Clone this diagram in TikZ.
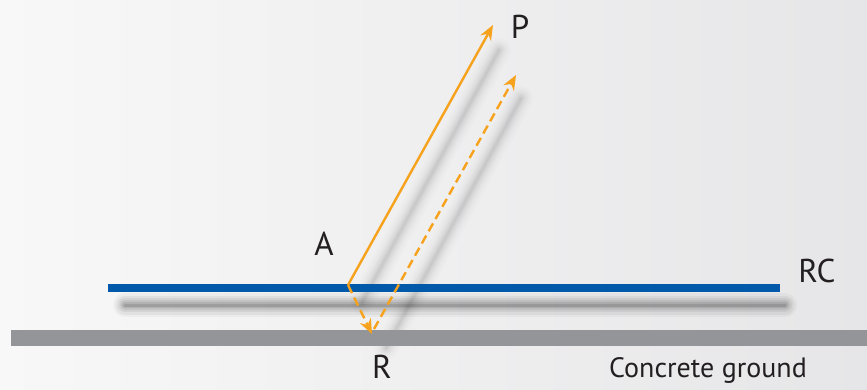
\documentclass[tikz,border=0pt]{standalone}
\usepackage{fontspec}
\setmainfont{PT Sans}
\usetikzlibrary{arrows.meta}
\definecolor{bgl}{HTML}{F8F8F8}
\definecolor{bgr}{HTML}{E6E6E8}
\definecolor{rcblue}{HTML}{0059A9}
\definecolor{ground}{HTML}{939598}
\definecolor{arr}{HTML}{F6A21C}
\definecolor{txt}{HTML}{231F20}
\tikzset{
  lbl/.style={font=\fontsize{33}{33}\selectfont, text=txt, inner sep=0pt, anchor=base},
  smalllbl/.style={font=\fontsize{28}{28}\selectfont, text=txt, inner sep=0pt, anchor=base},
  arrline/.style={draw=arr, line width=2.4pt, -{Stealth[length=15pt,width=12pt,inset=5pt]}},
  arrdash/.style={arrline, dash pattern=on 9pt off 5pt},
}
\newcommand{\softshadow}[3]{%
  \foreach \w/\o in {24/0.025, 19/0.035, 14/0.045, 10/0.055, 6/0.07, 3/0.08}{
    \draw[line width=\w pt, black, opacity=#3*\o, line cap=round] #1 -- #2;
  }%
}
\begin{document}
\begin{tikzpicture}[x=1pt,y=-1pt]
  \useasboundingbox (0,0) rectangle (867,389);
  \shade[left color=bgl, right color=bgr] (0,0) rectangle (867,389);
  % coordinates
  \coordinate (A) at (348,285);
  \coordinate (P) at (493,25);
  \coordinate (R) at (372,334);
  \coordinate (Pd) at (516,75);
  \coordinate (RCl) at (108,288);
  \coordinate (RCr) at (780,288);
  \coordinate (Gl) at (11,338);
  \coordinate (Gr) at (867,338);
  % shadows
  \softshadow{(125,305)}{(785,305)}{1.3}
  \softshadow{(362,302)}{(499,50)}{0.5}
  \softshadow{(386,348)}{(521,98)}{0.5}
  % ground and RC
  \draw[ground, line width=16pt] (Gl) -- (Gr);
  \draw[rcblue, line width=8pt] (RCl) -- (RCr);
  % arrows
  \draw[arrline] (A) -- (P);
  \draw[arrdash] (A) -- (R);
  \draw[arrdash] ([shift={(2,-5)}]R) -- (Pd);
  % labels
  \node[lbl] (lP) at (520,38) {P};
  \node[lbl] (lA) at (324,255) {A};
  \node[lbl] (lRC) at (817,282) {RC};
  \node[lbl] (lR) at (382,378) {R};
  \node[smalllbl] (lG) at (708,377) {Concrete ground};
\end{tikzpicture}
\end{document}
